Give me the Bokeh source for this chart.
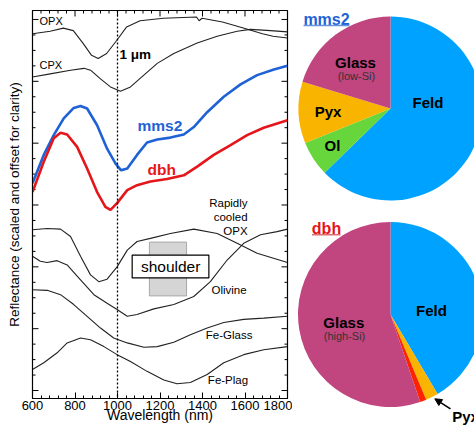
import math
import numpy as np
from bokeh.plotting import figure
from bokeh.layouts import row, column
from bokeh.models import (Range1d, SingleIntervalTicker, FixedTicker, Span,
                          Arrow, NormalHead, ColumnDataSource)
from bokeh.core.properties import value
from bokeh.embed import file_html
from bokeh.resources import INLINE

FONT = "Liberation Sans"

# ---------------- spectra (wavelength nm, offset reflectance) ----------------
opx_wl = [600, 683, 745, 792, 839, 878, 909, 949, 996, 1043, 1106, 1216, 1372, 1384, 1398, 1494, 1604, 1682, 1732, 1800]
opx_r = [5.77, 5.81, 5.86, 5.82, 5.61, 5.42, 5.37, 5.45, 5.66, 5.88, 5.98, 6.02, 6.04, 5.98, 6.02, 5.96, 5.85, 5.77, 5.73, 5.70]

cpx_wl = [600, 683, 779, 842, 873, 920, 967, 1014, 1061, 1124, 1187, 1265, 1375, 1469, 1563, 1626, 1720, 1800]
cpx_r = [5.07, 5.12, 5.18, 5.21, 5.18, 5.04, 4.91, 4.84, 4.91, 5.10, 5.29, 5.45, 5.62, 5.73, 5.81, 5.84, 5.82, 5.80]

mms2_wl = [600, 653, 700, 747, 794, 826, 857, 904, 951, 991, 1017, 1046, 1092, 1139, 1187, 1249, 1312, 1359, 1422, 1500, 1579, 1657, 1736, 1800]
mms2_r = [3.35, 3.81, 4.13, 4.40, 4.57, 4.60, 4.56, 4.29, 3.91, 3.67, 3.56, 3.59, 3.81, 4.01, 4.06, 4.09, 4.14, 4.26, 4.50, 4.75, 4.95, 5.10, 5.19, 5.25]

dbh_wl = [600, 653, 700, 732, 763, 810, 857, 904, 943, 967, 998, 1046, 1092, 1155, 1233, 1312, 1375, 1453, 1532, 1610, 1688, 1800]
dbh_r = [3.21, 3.70, 4.08, 4.17, 4.14, 3.94, 3.59, 3.21, 2.97, 2.92, 3.03, 3.24, 3.32, 3.38, 3.42, 3.48, 3.62, 3.81, 3.97, 4.13, 4.25, 4.37]

ropx_wl = [600, 669, 732, 779, 826, 873, 912, 951, 998, 1046, 1092, 1155, 1249, 1359, 1469, 1563, 1657, 1800]
ropx_r = [2.60, 2.62, 2.61, 2.49, 2.17, 1.87, 1.76, 1.80, 2.00, 2.27, 2.41, 2.46, 2.54, 2.61, 2.54, 2.38, 2.22, 2.07]

oliv_wl = [600, 637, 669, 716, 763, 826, 889, 951, 998, 1046, 1092, 1171, 1265, 1359, 1437, 1516, 1594, 1673, 1751, 1800]
oliv_r = [2.17, 2.09, 2.07, 2.10, 2.03, 1.79, 1.55, 1.41, 1.31, 1.20, 1.23, 1.32, 1.39, 1.52, 1.76, 2.11, 2.38, 2.52, 2.57, 2.61]

feglass_wl = [600, 669, 732, 794, 857, 920, 982, 1046, 1124, 1187, 1265, 1343, 1422, 1500, 1594, 1688, 1800]
feglass_r = [1.63, 1.62, 1.55, 1.39, 1.20, 1.01, 0.85, 0.77, 0.70, 0.71, 0.78, 0.90, 1.01, 1.10, 1.15, 1.17, 1.20]

feplag_wl = [600, 653, 716, 763, 826, 873, 936, 998, 1061, 1139, 1218, 1280, 1343, 1422, 1500, 1594, 1688, 1800]
feplag_r = [0.34, 0.45, 0.61, 0.77, 0.85, 0.82, 0.71, 0.58, 0.47, 0.31, 0.17, 0.11, 0.13, 0.26, 0.45, 0.58, 0.66, 0.71]

x_major = [600, 800, 1000, 1200, 1400, 1600, 1800]
x_minor_step = 40
y_major = [0, 1, 2, 3, 4, 5, 6]
y_minor_step = 0.25
shoulder_band = (1150, 1325)

# ---------------- pie compositions (%) ----------------
mms2_labels = ["Feld", "Ol", "Pyx", "Glass"]
mms2_pct = [62.7, 6.2, 10.8, 20.3]
mms2_colors = ["#00A2FF", "#66D63C", "#F9B400", "#C1457F"]

dbh_labels = ["Feld", "Pyx", "Other", "Glass"]
dbh_pct = [41.5, 2.2, 1.1, 55.2]
dbh_colors = ["#00A2FF", "#F9B400", "#FF2200", "#C1457F"]

BLUE = "#1E62D6"
RED = "#E5161B"
INK = "#222222"

X0, X1 = 600, 1800
Y0, Y1 = -8 / 62, 381 / 62

# ================= left: spectra =================
p = figure(width=292, height=425, output_backend="svg", toolbar_location=None,
           x_range=Range1d(X0, X1), y_range=Range1d(Y0, Y1),
           min_border_left=32, min_border_right=5, min_border_top=10, min_border_bottom=26)
p.grid.visible = False
p.outline_line_color = "black"
p.outline_line_width = 1.2
p.background_fill_color = "white"

ax = p.xaxis[0]
ax.ticker = SingleIntervalTicker(interval=200, num_minor_ticks=5)
ax.major_tick_in = 6
ax.major_tick_out = 0
ax.minor_tick_in = 3
ax.minor_tick_out = 0
ax.axis_line_color = "black"
ax.major_label_text_font = FONT
ax.major_label_text_font_size = "13px"
ax.major_label_text_color = "black"
ax.major_label_standoff = 2
ax.axis_label = "Wavelength (nm)"
ax.axis_label_text_font = FONT
ax.axis_label_text_font_size = "14px"
ax.axis_label_text_font_style = "normal"
ax.axis_label_text_color = "black"
ax.axis_label_standoff = -6

ay = p.yaxis[0]
ay.ticker = FixedTicker(ticks=[], minor_ticks=[])
ay.axis_line_color = "black"
ay.major_label_standoff = 0
ay.axis_label = "Reflectance (scaled and offset for clarity)"
ay.axis_label_text_font = FONT
ay.axis_label_text_font_size = "13.5px"
ay.axis_label_text_font_style = "normal"
ay.axis_label_text_color = "black"
ay.axis_label_standoff = 11

# ticks on left / right / top frame edges (6px major, 3px minor)
nm_per_px = (X1 - X0) / 255.0
u_per_px = (Y1 - Y0) / 389.0
y_minor = [v for v in np.arange(y_minor_step, 6.0, y_minor_step) if abs(v - round(v)) > 1e-6]
x_minor = [v for v in range(X0, X1, x_minor_step) if v not in x_major]
for ticks, L in [(y_major, 6), (y_minor, 3)]:
    p.segment(x0=[X0] * len(ticks), x1=[X0 + L * nm_per_px] * len(ticks), y0=ticks, y1=ticks,
              line_color="black", line_width=1)
    p.segment(x0=[X1] * len(ticks), x1=[X1 - L * nm_per_px] * len(ticks), y0=ticks, y1=ticks,
              line_color="black", line_width=1)
for ticks, L in [(x_major, 6), (x_minor, 3)]:
    p.segment(x0=ticks, x1=ticks, y0=[Y1] * len(ticks), y1=[Y1 - L * u_per_px] * len(ticks),
              line_color="black", line_width=1)

# shoulder band
p.quad(left=[shoulder_band[0]], right=[shoulder_band[1]], bottom=[1.53], top=[2.40],
       fill_color="#D5D5D5", line_color="#A8A8A8", line_width=1)

for wl, r in [(opx_wl, opx_r), (cpx_wl, cpx_r), (ropx_wl, ropx_r), (oliv_wl, oliv_r),
              (feglass_wl, feglass_r), (feplag_wl, feplag_r)]:
    p.line(wl, r, line_color=INK, line_width=1.1)
p.line(mms2_wl, mms2_r, line_color=BLUE, line_width=2.6)
p.line(dbh_wl, dbh_r, line_color=RED, line_width=2.6)

p.add_layout(Span(location=1000, dimension="height", line_color="black",
                  line_dash="2 2", line_width=1.3))

# shoulder label box
p.quad(left=[1069], right=[1430], bottom=[1.82], top=[2.19],
       fill_color="white", line_color="black", line_width=1.2)

def txt(fig, x, y, s, size, color="black", bold=False, align="left"):
    fig.text(x=[x], y=[y], text=[s], text_font=value(FONT), text_font_size=size,
             text_color=color, text_font_style="bold" if bold else "normal",
             text_align=align, text_baseline="middle")

txt(p, 1250, 2.0, "shoulder", "15.5px", align="center")
txt(p, 633, 5.97, "OPX", "11px")
txt(p, 633, 5.26, "CPX", "11px")
txt(p, 1009, 5.44, "1 μm", "13.5px", bold=True)
txt(p, 1094, 4.29, "mms2", "15.5px", color=BLUE, bold=True)
txt(p, 1141, 3.58, "dbh", "15.5px", color=RED, bold=True)
txt(p, 1612, 3.03, "Rapidly", "11.5px", align="right")
txt(p, 1612, 2.81, "cooled", "11.5px", align="right")
txt(p, 1612, 2.58, "OPX", "11.5px", align="right")
txt(p, 1525, 1.63, "Olivine", "11.5px", align="center")
txt(p, 1525, 0.89, "Fe-Glass", "11.5px", align="center")
txt(p, 1520, 0.17, "Fe-Plag", "11.5px", align="center")

# ================= right: pies =================
q = figure(width=182, height=425, output_backend="svg", toolbar_location=None,
           x_range=Range1d(0, 182), y_range=Range1d(0, 425),
           x_axis_type=None, y_axis_type=None, min_border=0, title=None)
q.grid.visible = False
q.outline_line_color = None

def pie(fig, cx, cy, r, labels, pct, colors):
    frac = np.array(pct, dtype=float) / np.sum(pct)
    cum = np.concatenate([[0.0], np.cumsum(frac)])
    start = math.pi / 2 - 2 * math.pi * cum[:-1]
    end = math.pi / 2 - 2 * math.pi * cum[1:]
    src = ColumnDataSource(dict(start=start, end=end, color=colors, label=labels))
    fig.wedge(x=cx, y=cy, radius=r, start_angle="start", end_angle="end",
              direction="clock", fill_color="color", line_color=None, source=src)

pie(q, 98, 317, 92, mms2_labels, mms2_pct, mms2_colors)
pie(q, 98, 111, 92.5, dbh_labels, dbh_pct, dbh_colors)

# titles with underline
txt(q, 34, 406.5, "mms2", "16px", color=BLUE, bold=True, align="center")
q.line([11, 57], [400, 400], line_color="#6A93DE", line_width=1.5)
txt(q, 34, 197.5, "dbh", "16px", color=RED, bold=True, align="center")
q.line([19.5, 48], [190.7, 190.7], line_color="#E07070", line_width=1.5)

txt(q, 63, 363, "Glass", "15px", bold=True, align="center")
txt(q, 64, 350, "(low-Si)", "11px", color="#333333", align="center")
txt(q, 135.5, 323.3, "Feld", "15px", bold=True, align="center")
txt(q, 35.5, 314, "Pyx", "15px", bold=True, align="center")
txt(q, 40, 280, "Ol", "15px", bold=True, align="center")

txt(q, 139, 115.5, "Feld", "15px", bold=True, align="center")
txt(q, 51.3, 103.3, "Glass", "15px", bold=True, align="center")
txt(q, 52, 90, "(high-Si)", "11px", color="#333333", align="center")
txt(q, 159.7, 9.3, "Pyx", "15px", bold=True)
q.add_layout(Arrow(end=NormalHead(size=7, fill_color="black", line_color="black"),
                   x_start=158, y_start=16.7, x_end=142.3, y_end=26.7,
                   line_color="black", line_width=1.6))

layout = row(p, column(q))
open("out.html", "w").write(file_html(layout, INLINE))
